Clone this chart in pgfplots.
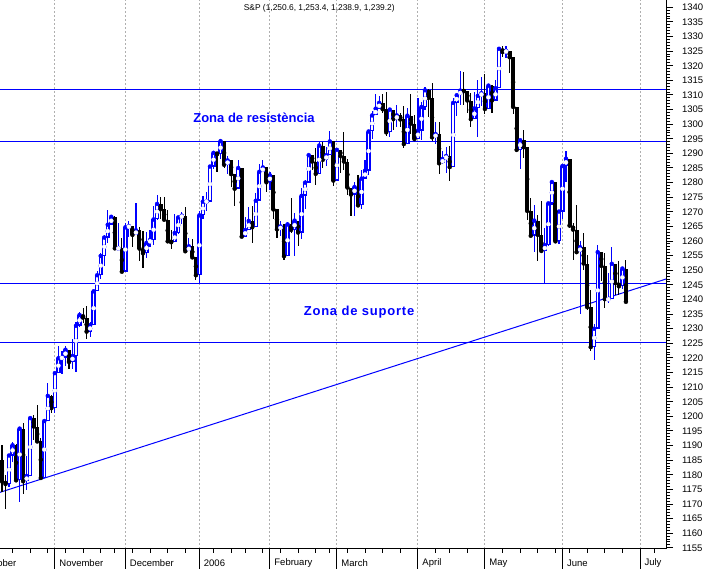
\documentclass[border=0pt]{standalone}
\usepackage{pgfplots}
\usepackage{pgfplotstable}
\pgfplotsset{compat=1.18}
\usepackage{fontspec}
\setmainfont{Liberation Sans}

% k = trading day (0 = 12 Oct 2005), open, high, low, close
% days that closed above (or at) the open
\pgfplotstableread{
k o h l c
2 1176.8 1187.0 1175.8 1186.6
3 1186.6 1191.3 1184.5 1190.1
5 1178.1 1195.9 1170.6 1195.8
7 1177.8 1186.5 1174.9 1179.6
8 1179.6 1199.7 1179.6 1199.4
12 1178.9 1198.4 1178.9 1198.4
13 1198.4 1211.5 1198.4 1207.0
15 1202.8 1215.2 1201.1 1214.8
16 1214.8 1224.0 1214.8 1219.9
17 1219.9 1222.5 1214.5 1220.1
18 1220.1 1224.2 1217.3 1222.8
20 1218.6 1226.6 1216.2 1220.7
21 1220.7 1232.4 1215.1 1231.0
22 1231.0 1235.7 1230.7 1234.7
25 1229.0 1232.2 1227.2 1231.2
26 1231.2 1243.0 1231.2 1242.8
27 1242.8 1249.6 1242.8 1248.3
28 1248.3 1255.9 1246.9 1254.9
29 1254.9 1261.9 1251.4 1261.2
30 1261.2 1270.6 1259.5 1265.6
31 1265.6 1268.8 1265.5 1268.3
33 1257.5 1266.2 1257.5 1257.5
35 1249.5 1266.2 1249.5 1264.7
36 1264.7 1266.9 1261.4 1265.1
38 1262.1 1272.9 1262.1 1263.7
41 1255.8 1263.1 1254.2 1259.4
42 1259.4 1263.9 1258.1 1260.4
43 1260.4 1272.1 1258.6 1267.4
44 1267.4 1275.8 1267.1 1272.7
49 1259.6 1269.4 1259.6 1262.8
50 1262.8 1268.2 1262.5 1268.1
51 1268.1 1269.8 1265.9 1268.7
53 1256.5 1261.1 1256.5 1258.2
56 1248.3 1270.2 1245.7 1268.8
57 1268.8 1275.4 1267.7 1273.5
58 1273.5 1276.9 1270.3 1273.5
59 1273.5 1286.1 1273.4 1285.5
60 1285.5 1290.8 1284.8 1290.2
62 1289.7 1294.9 1288.1 1294.2
64 1286.1 1289.0 1282.8 1287.6
67 1277.9 1287.8 1277.9 1285.0
69 1261.5 1268.2 1261.5 1263.8
70 1263.8 1271.8 1263.8 1266.9
72 1264.7 1276.4 1264.7 1273.8
73 1273.8 1286.4 1273.8 1283.7
74 1283.7 1287.9 1283.7 1285.2
76 1280.1 1283.5 1277.6 1282.5
79 1264.0 1267.0 1261.6 1265.0
81 1254.8 1266.5 1254.8 1265.7
83 1263.8 1269.5 1254.9 1267.0
85 1262.9 1278.2 1260.8 1275.5
86 1275.5 1281.0 1271.1 1280.0
87 1280.0 1289.5 1280.0 1289.4
90 1283.0 1294.2 1283.0 1292.7
92 1287.8 1292.1 1285.6 1289.4
93 1289.4 1297.6 1289.4 1294.1
95 1280.7 1291.8 1280.7 1291.2
100 1275.9 1280.3 1268.4 1278.5
102 1272.2 1284.4 1271.1 1281.4
103 1281.4 1287.8 1281.4 1284.1
104 1284.1 1298.1 1282.7 1297.5
105 1297.5 1304.4 1295.0 1303.0
106 1303.0 1310.2 1303.0 1305.3
107 1305.3 1309.8 1305.3 1307.3
110 1297.2 1305.6 1295.5 1305.0
112 1301.7 1306.5 1298.9 1303.0
115 1293.2 1305.6 1293.2 1302.9
118 1294.9 1309.0 1294.9 1297.8
119 1297.8 1307.6 1294.7 1305.9
120 1305.9 1312.8 1304.8 1311.6
123 1295.5 1300.7 1293.2 1296.6
125 1286.6 1290.9 1286.5 1288.1
126 1288.1 1292.1 1283.4 1289.1
128 1285.3 1309.0 1285.3 1307.3
129 1307.3 1310.4 1302.8 1309.9
130 1309.9 1318.2 1306.4 1311.5
134 1301.7 1311.0 1301.7 1305.4
135 1305.4 1315.0 1295.6 1309.7
136 1309.7 1316.0 1306.2 1310.6
138 1305.2 1313.7 1305.2 1313.2
140 1308.1 1315.1 1307.9 1312.3
141 1312.3 1326.5 1312.3 1325.8
143 1324.7 1326.6 1322.5 1325.1
147 1291.2 1294.8 1284.5 1294.5
151 1261.8 1272.2 1256.3 1267.0
154 1256.6 1264.5 1245.3 1258.6
155 1258.6 1273.3 1258.4 1272.9
156 1272.9 1280.5 1272.5 1280.2
158 1259.9 1270.1 1259.0 1270.1
159 1270.1 1285.7 1267.6 1285.7
160 1285.7 1290.7 1280.2 1288.2
164 1256.2 1259.9 1235.2 1257.9
168 1223.7 1231.5 1219.3 1230.0
169 1230.0 1258.6 1230.0 1256.2
172 1240.1 1249.0 1238.9 1240.1
173 1240.1 1258.0 1240.1 1252.2
176 1244.5 1250.9 1243.7 1250.6
}\up

% days that closed below the open
\pgfplotstableread{
k o h l c
-1 1187.3 1193.2 1183.5 1184.9
0 1184.9 1190.2 1174.2 1177.7
1 1177.7 1179.9 1168.2 1176.8
4 1190.1 1190.6 1178.1 1178.1
6 1195.8 1197.6 1173.5 1177.8
9 1199.4 1200.3 1192.0 1196.5
10 1196.5 1204.0 1191.4 1191.4
11 1191.4 1192.7 1178.9 1178.9
14 1207.0 1207.3 1201.1 1202.8
19 1222.8 1222.8 1216.1 1218.6
23 1234.7 1237.2 1231.8 1233.8
24 1233.8 1237.9 1226.4 1229.0
32 1268.3 1268.4 1257.2 1257.5
34 1257.5 1260.9 1249.4 1249.5
37 1265.1 1265.1 1258.1 1262.1
39 1263.7 1264.8 1253.0 1257.4
40 1257.4 1263.4 1250.9 1255.8
45 1272.7 1275.2 1267.7 1270.9
46 1270.9 1275.2 1267.3 1267.3
47 1267.3 1270.5 1259.3 1259.9
48 1259.9 1263.9 1257.2 1259.6
52 1268.7 1271.8 1256.5 1256.5
54 1258.2 1260.6 1254.2 1254.4
55 1254.4 1254.4 1246.6 1248.3
61 1290.2 1290.2 1283.8 1289.7
63 1294.2 1294.2 1285.0 1286.1
65 1287.6 1287.6 1278.6 1282.9
66 1282.9 1282.9 1272.1 1277.9
68 1285.0 1285.0 1260.9 1261.5
71 1266.9 1271.9 1259.4 1264.7
75 1285.2 1285.2 1276.9 1280.1
77 1282.5 1282.5 1267.7 1270.8
78 1270.8 1270.8 1261.0 1264.0
80 1265.0 1265.8 1253.6 1254.8
82 1265.7 1274.6 1262.8 1263.8
84 1267.0 1267.0 1258.3 1262.9
88 1289.4 1289.4 1284.2 1287.2
89 1287.2 1291.9 1279.2 1283.0
91 1292.7 1293.8 1285.1 1287.8
94 1294.1 1294.1 1278.7 1280.7
96 1291.2 1291.2 1283.2 1289.1
97 1289.1 1297.3 1284.2 1287.2
98 1287.2 1288.2 1275.7 1278.3
99 1278.3 1278.3 1268.4 1275.9
101 1278.5 1282.7 1272.2 1272.2
108 1307.3 1310.2 1303.7 1305.1
109 1305.1 1310.9 1295.8 1297.2
111 1305.0 1305.0 1298.1 1301.7
113 1303.0 1303.7 1299.1 1301.6
114 1301.6 1306.2 1291.8 1293.2
116 1302.9 1310.2 1296.7 1300.2
117 1300.2 1303.0 1294.9 1294.9
121 1311.6 1312.0 1302.4 1309.0
122 1309.0 1314.1 1294.2 1295.5
124 1296.6 1300.7 1283.0 1286.6
127 1289.1 1292.5 1280.7 1285.3
131 1311.5 1317.7 1306.5 1311.3
132 1311.3 1311.3 1303.8 1308.1
133 1308.1 1310.8 1299.2 1301.7
137 1310.6 1317.2 1303.5 1305.2
139 1313.2 1313.5 1303.9 1308.1
142 1325.8 1326.7 1322.9 1324.7
144 1325.1 1325.2 1317.4 1322.9
145 1322.9 1322.9 1303.5 1305.9
146 1305.9 1305.9 1290.4 1291.2
148 1294.5 1297.9 1288.5 1292.1
149 1292.1 1292.1 1267.2 1270.3
150 1270.3 1274.9 1261.8 1261.8
152 1267.0 1268.8 1253.0 1262.1
153 1262.1 1273.7 1256.6 1256.6
157 1280.2 1280.2 1259.9 1259.9
161 1288.2 1288.2 1264.6 1265.3
162 1265.3 1266.3 1253.6 1263.9
163 1263.9 1272.5 1255.8 1256.2
165 1257.9 1262.6 1250.0 1252.3
166 1252.3 1255.2 1236.4 1237.4
167 1237.4 1243.4 1222.5 1223.7
170 1256.2 1256.3 1246.3 1251.5
171 1251.5 1255.9 1237.2 1240.1
174 1252.2 1252.2 1241.6 1245.6
175 1245.6 1253.1 1241.4 1244.5
177 1250.6 1253.4 1238.9 1239.2
}\down

\definecolor{gridgray}{RGB}{175,175,175}
\newcommand{\tf}{\fontsize{9.5}{11}\selectfont}

\begin{document}
\begin{tikzpicture}
\useasboundingbox (0,0) rectangle (707pt,570pt);
\clip (0,0) rectangle (707pt,570pt);
\pgfplotsset{
  common/.style={
    at={(0pt,21pt)}, anchor=south west,
    width=666pt, height=549pt, scale only axis,
    xmin=-0.567, xmax=188.37, ymin=1154.6, ymax=1342.5,
  },
}
\begin{axis}[common,
  axis x line*=bottom, axis y line*=right,
  axis line style={black, line width=1pt, -},
  tick align=outside,
  major tick length=7pt, minor tick length=4pt,
  every tick/.style={black, line width=1pt},
  ytick={1155,1160,...,1340}, minor y tick num=4,
  yticklabel style={font=\tf, anchor=west, xshift=5.5pt},
  /pgf/number format/1000 sep={},
  /pgf/number format/assume math mode=true,
  xtick={15,35,56,76,95,118,137,159,181},
  xticklabels={},
  minor xtick={3,8,13,18,23,28,32,37,42,47,52,60,65,69,74,79,84,89,93,98,103,108,113,123,127,132,142,147,152,157,161,166,171,176,185},
  xmajorgrids,
  major x grid style={gridgray, line width=1pt, dash pattern=on 2pt off 2pt},
]
% support / resistance lines
\addplot[blue, line width=1pt, forget plot] coordinates {(-0.567,1311.9) (188.37,1311.9)};
\addplot[blue, line width=1pt, forget plot] coordinates {(-0.567,1294.2) (188.37,1294.2)};
\addplot[blue, line width=1pt, forget plot] coordinates {(-0.567,1245.5) (188.37,1245.5)};
\addplot[blue, line width=1pt, forget plot] coordinates {(-0.567,1225.4) (188.37,1225.4)};
% trend line
\addplot[blue, line width=1pt, forget plot] coordinates {(-0.567,1174.0) (188.37,1247.0)};

% wicks, falling days
\addplot[black, only marks, mark=none, forget plot,
  error bars/y dir=both, error bars/y explicit, error bars/error mark=none,
  error bars/error bar style={black, line width=1.1pt}]
  table[x=k, y=c, y error plus expr={\thisrow{h}-\thisrow{c}},
        y error minus expr={\thisrow{c}-\thisrow{l}}] {\down};
% wicks, rising days
\addplot[blue, only marks, mark=none, forget plot,
  error bars/y dir=both, error bars/y explicit, error bars/error mark=none,
  error bars/error bar style={blue, line width=1.2pt}]
  table[x=k, y=c, y error plus expr={\thisrow{h}-\thisrow{c}},
        y error minus expr={\thisrow{c}-\thisrow{l}}] {\up};
% bodies, falling days (filled black)
\addplot[black, only marks, mark=none, forget plot,
  error bars/y dir=both, error bars/y explicit, error bars/error mark=none,
  error bars/error bar style={black, line width=4pt}]
  table[x=k, y expr={(\thisrow{o}+\thisrow{c})/2},
        y error expr={max((\thisrow{o}-\thisrow{c})/2,0.2)}] {\down};
% bodies, rising days (blue outline)
\addplot[blue, only marks, mark=none, forget plot,
  error bars/y dir=both, error bars/y explicit, error bars/error mark=none,
  error bars/error bar style={blue, line width=4.3pt}]
  table[x=k, y expr={(\thisrow{o}+\thisrow{c})/2},
        y error expr={max((\thisrow{c}-\thisrow{o})/2,0.2)}] {\up};
% bodies, rising days (hollow inside)
\addplot[white, only marks, mark=none, forget plot,
  error bars/y dir=both, error bars/y explicit, error bars/error mark=none,
  error bars/error bar style={white, line width=1.5pt}]
  table[x=k, y expr={(\thisrow{o}+\thisrow{c})/2},
        y error expr={max((\thisrow{c}-\thisrow{o})/2-0.45,0)}] {\up};

\node[font=\fontsize{8.4}{10}\selectfont, anchor=center] at (axis cs:90,1339.7) {S\&P (1,250.6, 1,253.4, 1,238.9, 1,239.2)};
\node[font=\fontsize{13}{15}\selectfont\bfseries, text=blue] at (axis cs:71.5,1302.1) {Zona de resistència};
\node[font=\fontsize{13}{15}\selectfont\bfseries\addfontfeature{LetterSpace=6}, text=blue] at (axis cs:101.3,1235.7) {Zona de suporte};
\end{axis}

\begin{axis}[common,
  axis x line*=bottom, axis y line=none,
  axis line style={black, line width=1pt, -},
  tick align=outside,
  major tick length=20pt,
  every tick/.style={black, line width=1pt},
  ytick=\empty,
  xtick={15,35,56,76,95,118,137,159,181},
  xticklabels={November,December,2006,February,March,April,May,June,July},
  xticklabel style={font=\tf, anchor=west, xshift=1pt, yshift=6pt},
]
\end{axis}
\node[font=\tf, anchor=west] at (-21pt,7pt) {October};
\end{tikzpicture}
\end{document}
